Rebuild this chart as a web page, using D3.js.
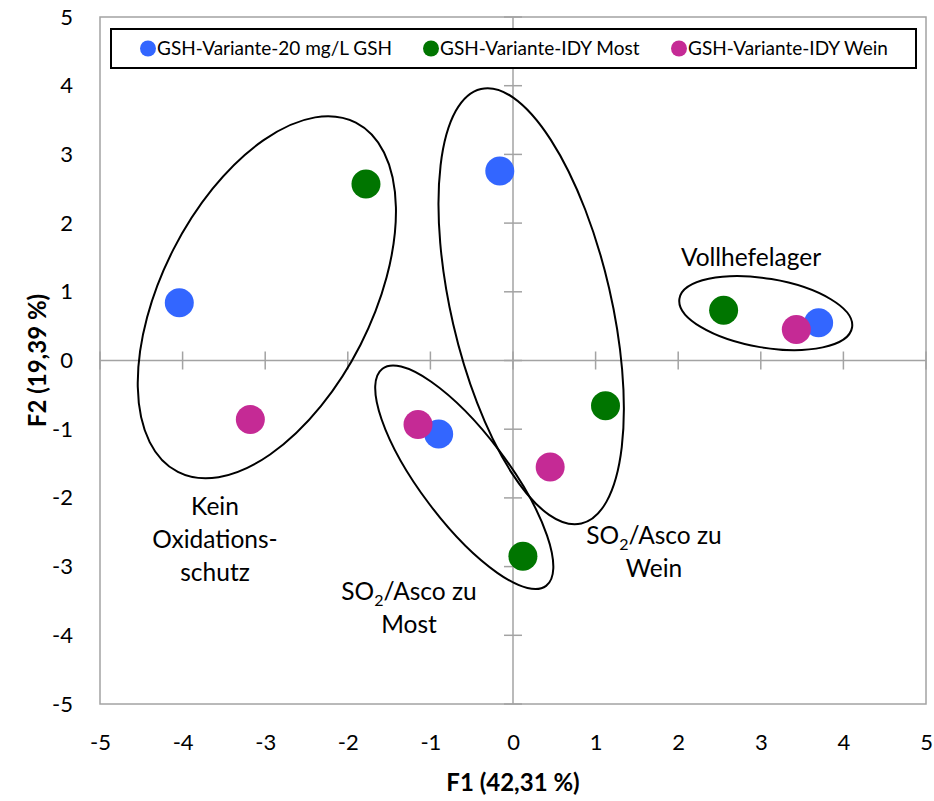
<!DOCTYPE html>
<html>
<head>
<meta charset="utf-8">
<script src="https://cdn.jsdelivr.net/npm/d3@7"></script>
<style>
  html, body { margin: 0; padding: 0; background: #fff; }
  svg { display: block; font-family: Lato, "Open Sans", sans-serif; }
</style>
</head>
<body>
<svg id="chart" width="934" height="801"></svg>
<script>
// ---- data ----
const seriesNames = ["GSH-Variante-20 mg/L GSH", "GSH-Variante-IDY Most", "GSH-Variante-IDY Wein"];
const seriesColors = ["#3366FF", "#007500", "#C52A95"];
const gsh20X = [-4.04, -0.16, -0.90, 3.70];
const gsh20Y = [0.84, 2.76, -1.07, 0.55];
const idyMostX = [-1.78, 1.12, 0.12, 2.55];
const idyMostY = [2.57, -0.66, -2.85, 0.73];
const idyWeinX = [-3.18, -1.15, 0.45, 3.43];
const idyWeinY = [-0.86, -0.93, -1.55, 0.45];
const xTicks = [-5, -4, -3, -2, -1, 0, 1, 2, 3, 4, 5];
const yTicks = [-5, -4, -3, -2, -1, 0, 1, 2, 3, 4, 5];
const xTitle = "F1 (42,31 %)";
const yTitle = "F2 (19,39 %)";
// group ellipses (centre in data units)
const groupCx = [-2.98, 0.22, -0.59, 3.06];
const groupCy = [0.92, 0.79, -1.70, 0.69];
const groupNames = ["Kein Oxidationsschutz", "SO2/Asco zu Wein", "SO2/Asco zu Most", "Vollhefelager"];

// ---- layout ----
const pL = 100, pR = 926, pT = 17, pB = 704;
const svg = d3.select("#chart");
const x = d3.scaleLinear().domain([-5, 5]).range([pL, pR]);
const y = d3.scaleLinear().domain([-5, 5]).range([pB, pT]);
const grey = "#a3a3a3";
const fmt = d => (d < 0 ? "-" + Math.abs(d) : String(d));

// plot border
svg.append("rect").attr("x", pL).attr("y", pT)
  .attr("width", pR - pL).attr("height", pB - pT)
  .attr("fill", "none").attr("stroke", grey).attr("stroke-width", 1.5);

// zero axes
svg.append("line").attr("x1", pL).attr("x2", pR)
  .attr("y1", y(0)).attr("y2", y(0)).attr("stroke", grey).attr("stroke-width", 1.5);
svg.append("line").attr("x1", x(0)).attr("x2", x(0))
  .attr("y1", pT).attr("y2", pB).attr("stroke", grey).attr("stroke-width", 1.5);

// cross ticks on zero axes
svg.append("g").selectAll("line").data(xTicks).join("line")
  .attr("x1", d => x(d)).attr("x2", d => x(d))
  .attr("y1", y(0) - 9).attr("y2", y(0) + 9)
  .attr("stroke", grey).attr("stroke-width", 1.5);
svg.append("g").selectAll("line").data(yTicks).join("line")
  .attr("y1", d => y(d)).attr("y2", d => y(d))
  .attr("x1", x(0) - 9).attr("x2", x(0) + 9)
  .attr("stroke", grey).attr("stroke-width", 1.5);

// tick labels via d3 axes
const xAxis = svg.append("g").attr("transform", `translate(0,${pB})`)
  .call(d3.axisBottom(x).tickValues(xTicks).tickSize(0).tickPadding(30).tickFormat(fmt));
xAxis.select(".domain").remove();
xAxis.selectAll("text").attr("font-size", 22).attr("fill", "#000")
  .attr("font-family", "Lato, sans-serif");
const yAxis = svg.append("g").attr("transform", `translate(${pL},0)`)
  .call(d3.axisLeft(y).tickValues(yTicks).tickSize(0).tickPadding(27).tickFormat(fmt));
yAxis.select(".domain").remove();
yAxis.selectAll("text").attr("font-size", 22).attr("fill", "#000")
  .attr("font-family", "Lato, sans-serif");

// axis titles
svg.append("text").attr("x", x(0)).attr("y", 791).attr("text-anchor", "middle")
  .attr("font-size", 24).attr("font-weight", "bold").text(xTitle);
svg.append("text").attr("transform", `translate(46,${y(0)}) rotate(-90)`)
  .attr("text-anchor", "middle").attr("font-size", 24).attr("font-weight", "bold").text(yTitle);

// group ellipses
const ellRx = [196, 223, 136, 87.5];
const ellRy = [105, 80, 44, 34.5];
const ellRot = [-63, 77, 53, 9.5];
svg.append("g").selectAll("ellipse").data(groupCx).join("ellipse")
  .attr("transform", (d, i) => `translate(${x(d)},${y(groupCy[i])}) rotate(${ellRot[i]})`)
  .attr("rx", (d, i) => ellRx[i]).attr("ry", (d, i) => ellRy[i])
  .attr("fill", "none").attr("stroke", "#000").attr("stroke-width", 2);

// points
const series = [
  { xs: gsh20X, ys: gsh20Y },
  { xs: idyMostX, ys: idyMostY },
  { xs: idyWeinX, ys: idyWeinY }
];
series.forEach((s, si) => {
  svg.append("g").selectAll("circle").data(s.xs.map((v, i) => [v, s.ys[i]])).join("circle")
    .attr("cx", d => x(d[0])).attr("cy", d => y(d[1])).attr("r", 14.5)
    .attr("fill", seriesColors[si]);
});

// group labels
const lab = svg.append("g").attr("font-size", 24.5).attr("fill", "#000").attr("text-anchor", "middle");
function multi(cx, baselines, lines) {
  lines.forEach((ln, i) => {
    const t = lab.append("text").attr("x", cx).attr("y", baselines[i]);
    if (ln.indexOf("SO2") === 0) {
      t.append("tspan").text("SO");
      t.append("tspan").attr("font-size", 16).attr("dy", 6).text("2");
      t.append("tspan").attr("dy", -6).text(ln.slice(3));
    } else {
      t.text(ln);
    }
  });
}
multi(215, [515, 548, 581], ["Kein", "Oxidations-", "schutz"]);
multi(409, [600, 633], ["SO2/Asco zu", "Most"]);
multi(654, [544, 577], ["SO2/Asco zu", "Wein"]);
multi(751, [266], ["Vollhefelager"]);

// legend
svg.append("rect").attr("x", 111).attr("y", 29).attr("width", 805).attr("height", 39)
  .attr("fill", "#fff").attr("stroke", "#000").attr("stroke-width", 2);
const legX = [148, 431, 679];
const leg = svg.append("g").selectAll("g").data(seriesNames).join("g")
  .attr("transform", (d, i) => `translate(${legX[i]},48.5)`);
leg.append("circle").attr("r", 8).attr("fill", (d, i) => seriesColors[i]);
leg.append("text").attr("x", 9).attr("y", 6.5).attr("font-size", 19).text(d => d);
</script>
</body>
</html>
